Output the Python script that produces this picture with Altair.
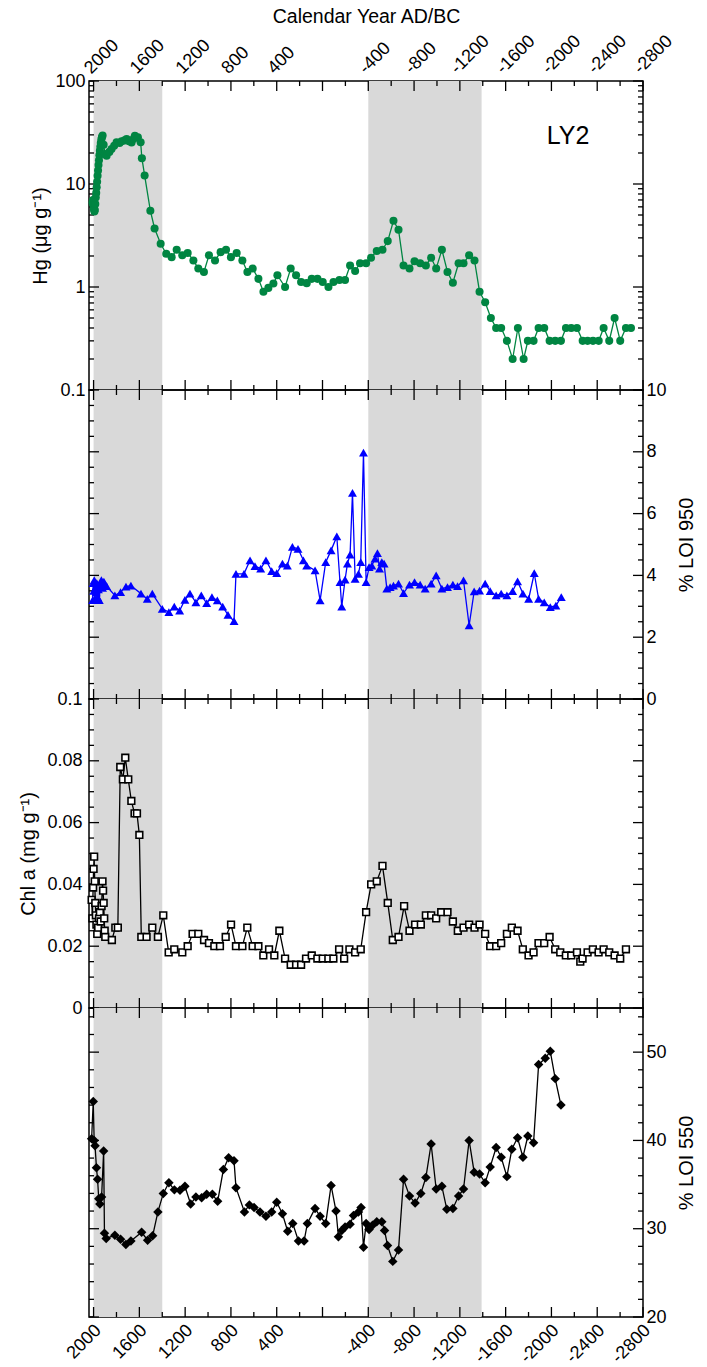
import altair as alt
import pandas as pd

# ---------------- data ----------------
# Mercury concentration (ug/g), LY2 core
hg_year = [2009, 2005, 2001, 1997, 1993, 1989, 1985, 1981, 1977, 1973, 1969, 1965, 1961, 1957,
           1953, 1949, 1945, 1941, 1937, 1932, 1927, 1921, 1912, 1900, 1886, 1862, 1843, 1820,
           1799, 1773, 1755, 1729, 1711, 1690, 1668, 1650, 1639, 1613, 1589, 1578, 1554, 1504,
           1467, 1414, 1365, 1318, 1274, 1225, 1178, 1128, 1085, 1036, 992, 939, 890, 843, 800,
           750, 700, 656, 610, 560, 516, 473, 429, 394, 327, 278, 231, 187, 138, 94, 44, -2,
           -52, -96, -148, -197, -241, -285, -328, -381, -424, -474, -524, -570, -620, -664,
           -708, -760, -804, -853, -903, -949, -993, -1043, -1092, -1139, -1189, -1232, -1281,
           -1328, -1372, -1421, -1471, -1517, -1561, -1611, -1661, -1707, -1757, -1794, -1844,
           -1888, -1937, -1984, -2033, -2083, -2127, -2173, -2223, -2273, -2316, -2363, -2413,
           -2456, -2505, -2552, -2601, -2651, -2695]
hg_value = [6.6, 7.0, 6.2, 5.7, 5.4, 5.6, 6.4, 7.4, 8.2, 9.3, 10.5, 12.0, 13.5, 15.3,
            17.0, 19.0, 21.0, 23.0, 25.0, 27.0, 28.5, 29.5, 24.0, 19.5, 18.8, 20.5, 21.9, 23.5,
            25.4, 25.0, 26.0, 26.5, 27.3, 26.0, 25.3, 27.5, 29.4, 28.4, 25.4, 17.8, 12.1, 5.5,
            3.7, 2.63, 2.1, 1.95, 2.3, 2.03, 2.14, 1.81, 1.51, 1.40, 2.03, 1.81, 2.18, 2.3, 1.95,
            2.14, 1.81, 1.40, 1.51, 1.2, 0.9, 0.98, 1.08, 1.3, 1.0, 1.51, 1.3, 1.12, 1.09, 1.2, 1.2, 1.12,
            1.0, 1.12, 1.17, 1.17, 1.62, 1.43, 1.7, 1.7, 1.92, 2.24, 2.3, 2.79, 4.4, 3.6,
            1.62, 1.51, 1.78, 1.70, 1.62, 1.92, 1.51, 2.3, 1.40, 1.10, 1.70, 1.70, 2.03,
            1.81, 0.90, 0.71, 0.50, 0.40, 0.40, 0.30, 0.20, 0.40, 0.20, 0.30, 0.30,
            0.40, 0.40, 0.30, 0.30, 0.30, 0.40, 0.40, 0.40, 0.30, 0.30, 0.30, 0.30,
            0.40, 0.30, 0.50, 0.30, 0.40, 0.40]

# Loss on ignition at 950 C (%)
loi950_year = [2008, 2004, 1999, 1994, 1989, 1984, 1978, 1972, 1965, 1958, 1950, 1942, 1932, 1922,
               1910, 1900, 1886, 1814, 1764, 1717, 1674, 1586, 1531, 1487, 1400, 1342, 1295, 1248,
               1202, 1158, 1106, 1059, 1012, 966, 919, 872, 826, 773, 756, 686, 633, 590, 540, 494,
               444, 400, 350, 307, 263, 214, 167, 138, 65, 21, -28, -75, -125, -153, -168, -197,
               -218, -241, -262, -285, -314, -334, -358, -381, -407, -431, -459, -480, -498, -518,
               -538, -562, -591, -620, -664, -708, -760, -804, -853, -897, -949, -993, -1043,
               -1092, -1139, -1180, -1232, -1281, -1325, -1372, -1421, -1465, -1517, -1561, -1611,
               -1661, -1704, -1751, -1801, -1850, -1888, -1937, -1990, -2039, -2086]
loi950_value = [3.2, 3.75, 3.5, 3.85, 3.25, 3.6, 3.45, 3.75, 3.3, 3.55, 3.2, 3.7, 3.85, 3.6,
                3.8, 3.7, 3.65, 3.35, 3.46, 3.64, 3.67, 3.41, 3.24, 3.41, 2.92, 2.81, 2.99, 2.86,
                3.21, 3.41, 3.13, 3.35, 3.10, 3.30, 3.19, 2.99, 2.72, 2.52, 4.05, 4.05, 4.49, 4.30, 4.22, 4.49,
                4.14, 4.07, 4.38, 4.32, 4.92, 4.86, 4.49, 4.32, 4.16, 3.19, 4.43, 4.81, 5.26, 3.78, 2.99, 3.86,
                4.38, 4.67, 6.67, 3.89, 4.05, 4.43, 7.97, 3.78, 4.27, 4.32, 4.54, 4.72, 4.22, 4.43,
                4.38, 3.57, 3.62, 3.67, 3.73, 3.43, 3.70, 3.78, 3.70, 3.57, 3.73, 4.00, 3.57,
                3.62, 3.70, 3.65, 3.84, 2.38, 3.48, 3.51, 3.73, 3.49, 3.35, 3.41, 3.35,
                3.49, 3.81, 3.41, 3.24, 4.07, 3.24, 3.13, 2.97, 3.02, 3.30]

# Chlorophyll a (mg/g)
chl_year = [2017, 2010, 2004, 2000, 1995, 1990, 1985, 1980, 1975, 1968, 1960, 1953, 1945, 1938,
            1930, 1922, 1917, 1912, 1907, 1903, 1898, 1840, 1810, 1788, 1767, 1744, 1723, 1697,
            1670, 1642, 1621, 1600, 1583, 1537, 1487, 1438, 1391, 1344, 1295, 1225, 1178, 1135,
            1085, 1035, 992, 945, 896, 846, 799, 756, 700, 657, 610, 560, 517, 467, 421, 377,
            327, 278, 231, 187, 144, 94, 45, -2, -51, -95, -145, -189, -235, -285, -334, -381,
            -425, -474, -524, -570, -614, -664, -713, -760, -809, -859, -903, -949, -993, -1037,
            -1092, -1139, -1182, -1232, -1281, -1328, -1372, -1421, -1465, -1517, -1561, -1611,
            -1654, -1704, -1750, -1800, -1844, -1887, -1937, -1984, -2033, -2077, -2126, -2173,
            -2223, -2252, -2272, -2316, -2362, -2412, -2456, -2505, -2552, -2601, -2651]
chl_value = [0.035, 0.029, 0.039, 0.045, 0.049, 0.041, 0.034, 0.030, 0.027, 0.024, 0.026, 0.029,
             0.031, 0.028, 0.033, 0.041, 0.038, 0.034, 0.029, 0.025, 0.023, 0.022, 0.026, 0.026,
             0.078, 0.074, 0.081, 0.074, 0.067, 0.063, 0.063, 0.056, 0.023, 0.023, 0.026, 0.023,
             0.030, 0.018, 0.019, 0.018, 0.020, 0.024, 0.024, 0.022, 0.021, 0.020, 0.020, 0.023,
             0.027, 0.020, 0.020, 0.026, 0.020, 0.020, 0.017, 0.019, 0.017, 0.025, 0.016, 0.014,
             0.014, 0.014, 0.016, 0.017, 0.016, 0.016, 0.016, 0.016, 0.019, 0.016, 0.019, 0.018,
             0.019, 0.031, 0.040, 0.041, 0.046, 0.034, 0.022, 0.023, 0.033, 0.025, 0.027, 0.027,
             0.030, 0.030, 0.029, 0.031, 0.031, 0.028, 0.025, 0.026, 0.027, 0.026, 0.027, 0.024,
             0.020, 0.020, 0.021, 0.024, 0.026, 0.025, 0.019, 0.017, 0.018, 0.021, 0.021, 0.023,
             0.019, 0.018, 0.017, 0.017, 0.018, 0.015, 0.016, 0.018, 0.019, 0.018, 0.019, 0.018,
             0.017, 0.016, 0.019]

# Loss on ignition at 550 C (%)
loi550_year = [2017, 2003, 1995, 1987, 1975, 1965, 1955, 1945, 1930, 1912, 1905, 1890, 1814,
               1764, 1718, 1674, 1580, 1528, 1484, 1438, 1391, 1342, 1294, 1245, 1202, 1152,
               1106, 1056, 1012, 962, 916, 866, 820, 773, 756, 682, 639, 598, 546, 494, 444,
               400, 350, 304, 260, 210, 161, 132, 65, 21, -28, -75, -118, -139, -168, -197,
               -241, -271, -314, -337, -358, -381, -407, -437, -474, -518, -542, -568, -614,
               -664, -708, -760, -809, -859, -903, -949, -993, -1043, -1086, -1139, -1189,
               -1232, -1281, -1325, -1372, -1421, -1465, -1517, -1561, -1611, -1654, -1704,
               -1751, -1794, -1844, -1888, -1946, -1990, -2033, -2083]
loi550_value = [40.2, 44.4, 40.0, 39.4, 36.9, 35.6, 33.4, 32.8, 33.6, 38.8, 29.5, 28.9, 29.25,
                28.8, 28.2, 28.6, 29.6, 28.7, 29.2, 31.9, 34.0, 35.2, 34.4, 34.35, 34.8, 32.8,
                33.6, 33.5, 33.9, 33.9, 33.1, 36.7, 38.05, 37.7, 34.65, 31.9, 32.7, 32.4, 31.9, 31.4, 31.9,
                33.0, 31.7, 29.7, 30.6, 28.6, 28.6, 30.6, 32.3, 31.4, 30.6, 34.9, 32.0, 29.1, 29.8, 30.2,
                30.5, 31.5, 31.9, 32.4, 27.9, 30.6, 29.9, 30.4, 30.8, 30.8, 29.8, 28.1, 26.3,
                27.6, 35.6, 33.7, 32.9, 34.0, 35.8, 39.6, 34.5, 34.8, 32.2, 32.3, 33.7,
                34.5, 40.0, 36.4, 36.2, 35.2, 37.0, 39.2, 38.1, 35.9, 39.0, 40.3,
                38.1, 40.5, 39.75, 48.6, 49.3, 50.1, 47.0, 44.0]

# shaded intervals (calendar years)
shade_start = [2000, -400]
shade_end = [1400, -1390]

# axis ticks
year_major = [2000, 1600, 1200, 800, 400, 0, -400, -800, -1200, -1600, -2000, -2400, -2800]
year_minor = [1800, 1400, 1000, 600, 200, -200, -600, -1000, -1400, -1800, -2200, -2600]
hg_major = [0.1, 1, 10, 100]
hg_minor = [0.2, 0.3, 0.4, 0.5, 0.6, 0.7, 0.8, 0.9, 2, 3, 4, 5, 6, 7, 8, 9,
            20, 30, 40, 50, 60, 70, 80, 90]
loi950_major = [0, 2, 4, 6, 8, 10]
loi950_minor = [0.5, 1, 1.5, 2.5, 3, 3.5, 4.5, 5, 5.5, 6.5, 7, 7.5, 8.5, 9, 9.5]
chl_major = [0, 0.02, 0.04, 0.06, 0.08, 0.1]
chl_minor = [0.005, 0.01, 0.015, 0.025, 0.03, 0.035, 0.045, 0.05, 0.055, 0.065, 0.07,
             0.075, 0.085, 0.09, 0.095]
loi550_major = [20, 30, 40, 50]
loi550_minor = [22, 24, 26, 28, 32, 34, 36, 38, 42, 44, 46, 48, 52, 54]

# ---------------- layout ----------------
W, H = 554, 309
FONT = "Liberation Sans"
MAJ, MIN = 10, 5

x_scale = alt.Scale(domain=[2040, -2800], nice=False, zero=False)
shade_df = pd.DataFrame({"start": shade_start, "end": shade_end})

year_label = "datum.value == 0 ? '' : '' + datum.value"
plain_label = "'' + datum.value"


def panel(years, values, yscale, yaxis, xaxis, major, minor, color, shape, size, fill,
          stroke_w=0, extra=()):
    """One stratigraphic panel: shading, inward ticks, line and symbols."""
    def X(field):
        return alt.X(field, scale=x_scale, axis=xaxis)

    def Y(field):
        return alt.Y(field, scale=yscale, axis=yaxis)

    layers = [alt.Chart(shade_df).mark_rect(color="#d9d9d9").encode(
        x=X("start:Q"), x2="end:Q", y=alt.value(0), y2=alt.value(H))]

    # inward ticks along the top and bottom edges
    for vals, ln in ((year_major, MAJ), (year_minor, MIN)):
        base = alt.Chart(pd.DataFrame({"year": vals})).mark_rule(
            color="black", strokeWidth=1.3).encode(x=X("year:Q"))
        layers.append(base.encode(y=alt.value(0), y2=alt.value(ln)))
        layers.append(base.encode(y=alt.value(H), y2=alt.value(H - ln)))

    # inward ticks along the left and right edges
    for vals, ln in ((major, MAJ), (minor, MIN)):
        base = alt.Chart(pd.DataFrame({"value": vals})).mark_rule(
            color="black", strokeWidth=1.3).encode(y=Y("value:Q"))
        layers.append(base.encode(x=alt.value(0), x2=alt.value(ln)))
        layers.append(base.encode(x=alt.value(W), x2=alt.value(W - ln)))

    df = pd.DataFrame({"year": years, "value": values})
    base = alt.Chart(df).encode(x=X("year:Q"), y=Y("value:Q"))
    layers.append(base.mark_line(color=color, strokeWidth=1.3))
    layers.append(base.mark_point(shape=shape, size=size, filled=True, fill=fill, color=color,
                                  stroke=color, strokeWidth=stroke_w, opacity=1))
    layers.extend(extra)
    return alt.layer(*layers).properties(width=W, height=H)


top_axis = alt.Axis(orient="top", values=year_major, labelExpr=year_label, labelAngle=315,
                    labelOverlap=False, labelFlush=False,
                    title="Calendar Year AD/BC", titlePadding=5, labelPadding=4,
                    titleFontSize=19.5)
bottom_axis = alt.Axis(orient="bottom", values=year_major, labelExpr=year_label,
                       labelAngle=315, labelOverlap=False, labelFlush=False,
                       title=None, labelPadding=4, labelOffset=-2)

# Panel 1: Hg (log)
hg_scale = alt.Scale(type="log", domain=[0.1, 100], nice=False)
hg_axis = alt.Axis(orient="left", values=hg_major, labelExpr=plain_label, labelPadding=4,
                   labelOverlap=False, title="Hg (μg g⁻¹)", titlePadding=4)
ly2 = alt.Chart(pd.DataFrame({"t": ["LY2"]})).mark_text(
    font=FONT, fontSize=25, color="black").encode(
    text="t:N", x=alt.value(479), y=alt.value(55))
p1 = panel(hg_year, hg_value, hg_scale, hg_axis, top_axis, hg_major, hg_minor,
           "#008542", "circle", 65, "#008542", extra=[ly2])

# Panel 2: LOI 950 (title reads bottom-to-top)
l9_scale = alt.Scale(domain=[0, 10], nice=False, zero=False)
l9_axis = alt.Axis(orient="right", values=loi950_major, labelExpr=plain_label, labelPadding=3,
                   labelOverlap=False, title="% LOI 950", titlePadding=10,
                   titleAngle=270, titleBaseline="top")
p2 = panel(loi950_year, loi950_value, l9_scale, l9_axis, None, loi950_major, loi950_minor,
           "#0000ff", "triangle-up", 80, "#0000ff")

# Panel 3: Chl a
chl_scale = alt.Scale(domain=[0, 0.1], nice=False, zero=False)
chl_axis = alt.Axis(orient="left", values=chl_major, labelExpr=plain_label, labelPadding=7,
                    labelOverlap=False, title="Chl a (mg g⁻¹)", titlePadding=8)
p3 = panel(chl_year, chl_value, chl_scale, chl_axis, None, chl_major, chl_minor,
           "black", "square", 45, "white", stroke_w=1.6)

# Panel 4: LOI 550 (title reads bottom-to-top)
l5_scale = alt.Scale(domain=[20, 55], nice=False, zero=False)
l5_axis = alt.Axis(orient="right", values=loi550_major, labelExpr=plain_label, labelPadding=3,
                   labelOverlap=False, title="% LOI 550", titlePadding=10,
                   titleAngle=270, titleBaseline="top")
p4 = panel(loi550_year, loi550_value, l5_scale, l5_axis, bottom_axis, loi550_major,
           loi550_minor, "black", "diamond", 90, "black")

chart = alt.vconcat(p1, p2, p3, p4, spacing=0, bounds="flush").properties(
    padding={"left": 18, "top": 5, "right": 0, "bottom": 0}
).configure_view(
    stroke="black", strokeWidth=1.5
).configure_axis(
    labelFont=FONT, titleFont=FONT, labelFontSize=18, titleFontSize=20,
    labelColor="black", titleColor="black", titleFontWeight="normal",
    ticks=False, tickSize=0, domain=False, grid=False,
)

chart.save("out.html", embed_options={"renderer": "svg", "actions": False})
